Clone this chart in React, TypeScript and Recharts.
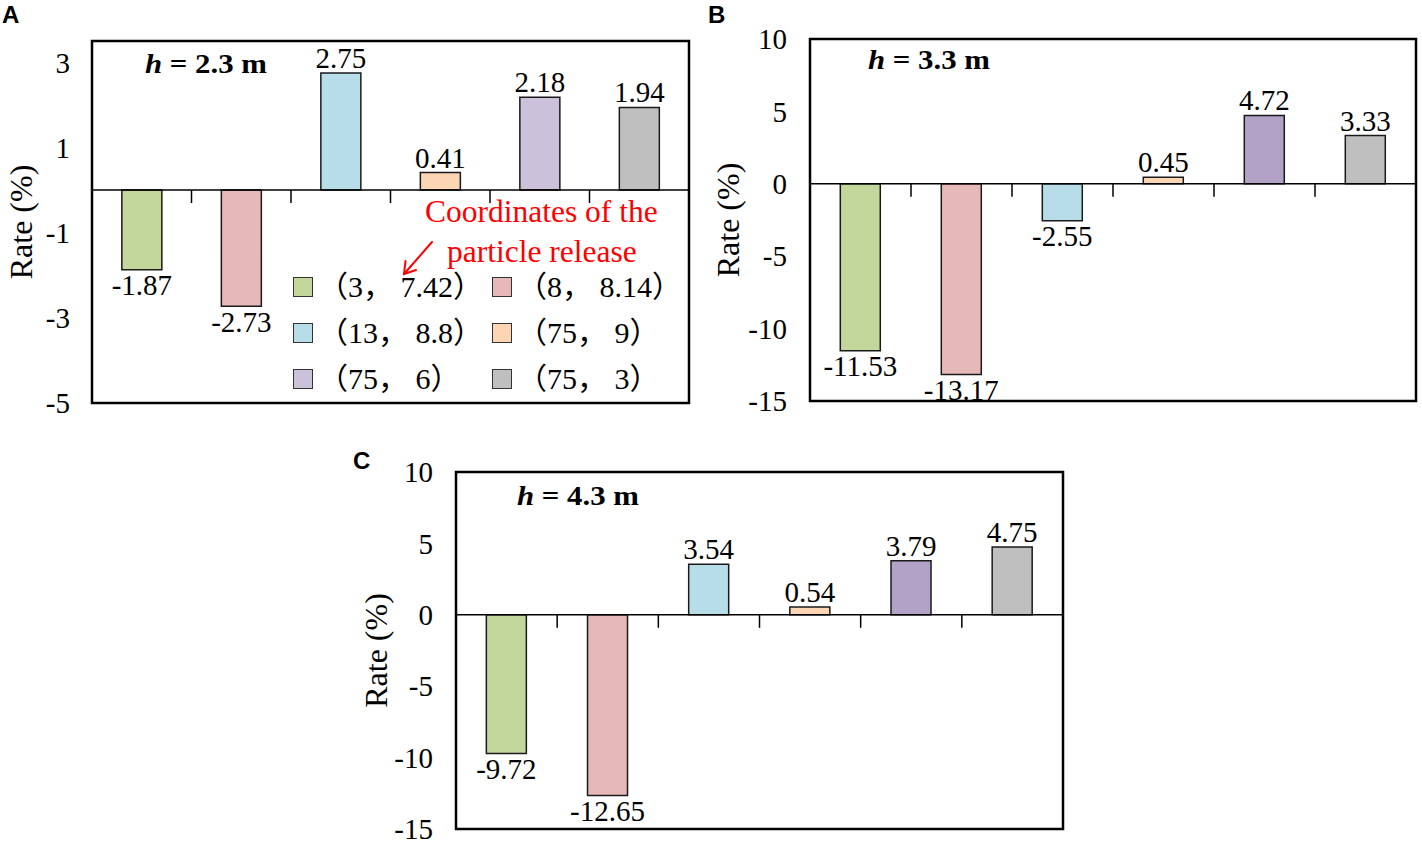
import React from "react";
import {
  BarChart,
  Bar,
  XAxis,
  YAxis,
  Cell,
  LabelList,
  ReferenceLine,
  ReferenceArea,
  Legend,
} from "recharts";

// release points (x, z) of the particles
const categories = ["3,7.42", "8,8.14", "13,8.8", "75,9", "75,6", "75,3"];
const legendLabels = ["（3， 7.42）", "（8， 8.14）", "（13， 8.8）", "（75， 9）", "（75， 6）", "（75， 3）"];

const valuesA = [-1.87, -2.73, 2.75, 0.41, 2.18, 1.94];
const valuesB = [-11.53, -13.17, -2.55, 0.45, 4.72, 3.33];
const valuesC = [-9.72, -12.65, 3.54, 0.54, 3.79, 4.75];

const colorsA = ["#c3d69b", "#e6b9b8", "#b7dee8", "#fcd5b5", "#ccc1da", "#bfbfbf"];
const colorsBC = ["#c3d69b", "#e6b9b8", "#b7dee8", "#fcd5b5", "#b3a2c7", "#bfbfbf"];

const domainA = [-5, 3.5];
const ticksA = [-5, -3, -1, 1, 3];
const domainBC = [-15, 10];
const ticksBC = [-15, -10, -5, 0, 5, 10];

const SERIF = "'Liberation Serif', 'Times New Roman', serif";
const SERIF_CJK = "'Liberation Serif', 'Times New Roman', 'Noto Sans CJK SC', serif";

const toRows = (values: number[]) =>
  categories.map((name, i) => ({ name, value: values[i] }));

function LegendGrid({ colors }: { colors: string[] }) {
  return (
    <div
      style={{
        display: "grid",
        gridTemplateColumns: "199px 199px",
        gridAutoRows: "46px",
        fontFamily: SERIF_CJK,
        fontSize: 30,
        color: "#000",
      }}
    >
      {legendLabels.map((label, i) => (
        <div key={label} style={{ display: "flex", alignItems: "center" }}>
          <span
            style={{
              width: 18,
              height: 18,
              background: colors[i],
              border: "1.5px solid #333",
              marginRight: 5,
              flex: "none",
            }}
          />
          <span style={{ whiteSpace: "pre", lineHeight: 1 }}>{label}</span>
        </div>
      ))}
    </div>
  );
}

interface PanelProps {
  values: number[];
  colors: string[];
  domain: number[];
  ticks: number[];
  left: number;
  top: number;
  width: number;
  height: number;
  margin: { top: number; right: number; bottom: number; left: number };
  yWidth: number;
  tickGap: number;
  rateOffset: number;
  legend?: boolean;
}

function Panel(p: PanelProps) {
  const data = toRows(p.values);
  const plotH = p.height - p.margin.top - p.margin.bottom;
  // small downward ticks on the zero line, ~13px long
  const tickLen = (13 / plotH) * (p.domain[1] - p.domain[0]);

  return (
    <div style={{ position: "absolute", left: p.left, top: p.top }}>
      <BarChart
        width={p.width}
        height={p.height}
        data={data}
        margin={p.margin}
        barCategoryGap="30%"
      >
        <XAxis dataKey="name" hide />
        <YAxis
          type="number"
          domain={p.domain}
          ticks={p.ticks}
          interval={0}
          allowDataOverflow
          width={p.yWidth}
          axisLine={false}
          tickLine={false}
          tickSize={0}
          tickMargin={p.tickGap}
          tick={{ fill: "#000", fontSize: 29, fontFamily: SERIF }}
          label={{
            content: (lp: any) => {
              const vb = lp && lp.viewBox;
              if (!vb) return null;
              const cx = vb.x + vb.width - p.rateOffset;
              const cy = vb.y + vb.height / 2;
              return (
                <text
                  x={cx}
                  y={cy}
                  transform={`rotate(-90 ${cx} ${cy})`}
                  textAnchor="middle"
                  dominantBaseline="central"
                  fontFamily={SERIF}
                  fontSize={32}
                  fill="#000"
                >
                  Rate (%)
                </text>
              );
            },
          }}
        />
        <ReferenceArea
          y1={p.domain[0]}
          y2={p.domain[1]}
          fill="none"
          stroke="#000"
          strokeWidth={2.5}
          ifOverflow="visible"
        />
        <ReferenceLine y={0} stroke="#000" strokeWidth={1.5} />
        {categories.slice(1).map((c) => (
          <ReferenceLine
            key={c}
            segment={[
              { x: c, y: 0 },
              { x: c, y: -tickLen },
            ]}
            position="start"
            stroke="#000"
            strokeWidth={1.5}
            ifOverflow="visible"
          />
        ))}
        <Bar
          dataKey="value"
          stroke="#1a1a1a"
          strokeWidth={1.5}
          isAnimationActive={false}
        >
          {data.map((d, i) => (
            <Cell key={d.name} fill={p.colors[i]} />
          ))}
          <LabelList
            dataKey="value"
            position="top"
            offset={5}
            fill="#000"
            fontSize={29}
            fontFamily={SERIF}
            formatter={(v: any) => Number(v).toFixed(2)}
          />
        </Bar>
        {p.legend && (
          <Legend
            layout="horizontal"
            verticalAlign="middle"
            align="center"
            wrapperStyle={{ left: 293, top: 264, width: 420, height: 140 }}
            content={() => <LegendGrid colors={p.colors} />}
          />
        )}
      </BarChart>
    </div>
  );
}

function Title({ x, y, value }: { x: number; y: number; value: string }) {
  return (
    <text
      transform={`translate(${x} ${y}) scale(1.1 1)`}
      fontFamily={SERIF}
      fontWeight="bold"
      fontSize={28}
      fill="#000"
    >
      <tspan fontStyle="italic">h</tspan> = {value} m
    </text>
  );
}

export default function App() {
  return (
    <div
      style={{
        position: "absolute",
        left: 0,
        top: 0,
        width: 1422,
        height: 845,
        background: "#fff",
        overflow: "hidden",
      }}
    >
      <Panel
        values={valuesA}
        colors={colorsA}
        domain={domainA}
        ticks={ticksA}
        left={0}
        top={0}
        width={720}
        height={430}
        margin={{ top: 41, right: 31, bottom: 27, left: 0 }}
        yWidth={92}
        tickGap={22}
        rateOffset={71}
        legend
      />
      <Panel
        values={valuesB}
        colors={colorsBC}
        domain={domainBC}
        ticks={ticksBC}
        left={700}
        top={0}
        width={722}
        height={430}
        margin={{ top: 39, right: 6, bottom: 29, left: 0 }}
        yWidth={110}
        tickGap={23}
        rateOffset={82}
      />
      <Panel
        values={valuesC}
        colors={colorsBC}
        domain={domainBC}
        ticks={ticksBC}
        left={340}
        top={440}
        width={740}
        height={405}
        margin={{ top: 32, right: 17, bottom: 16, left: 0 }}
        yWidth={116}
        tickGap={23}
        rateOffset={80}
      />
      <svg
        width={1422}
        height={845}
        style={{ position: "absolute", left: 0, top: 0, pointerEvents: "none" }}
      >
        <g fontFamily="'Liberation Sans', Arial, sans-serif" fontWeight="bold" fontSize={24} fill="#000">
          <text x={2} y={23}>A</text>
          <text x={708} y={23}>B</text>
          <text x={353} y={469}>C</text>
        </g>
        <Title x={145} y={73} value="2.3" />
        <Title x={868} y={69} value="3.3" />
        <Title x={517} y={505} value="4.3" />
        <g fontFamily={SERIF} fontSize={31.5} fill="#ff0000">
          <text x={425} y={222}>Coordinates of the</text>
          <text x={447} y={262}>particle release</text>
        </g>
        <g stroke="#ff0000" strokeWidth={2} fill="none" strokeLinecap="round">
          <path d="M 432 242 L 404 274" />
          <path d="M 405.5 261 L 404 274 L 416 270" />
        </g>
      </svg>
    </div>
  );
}
